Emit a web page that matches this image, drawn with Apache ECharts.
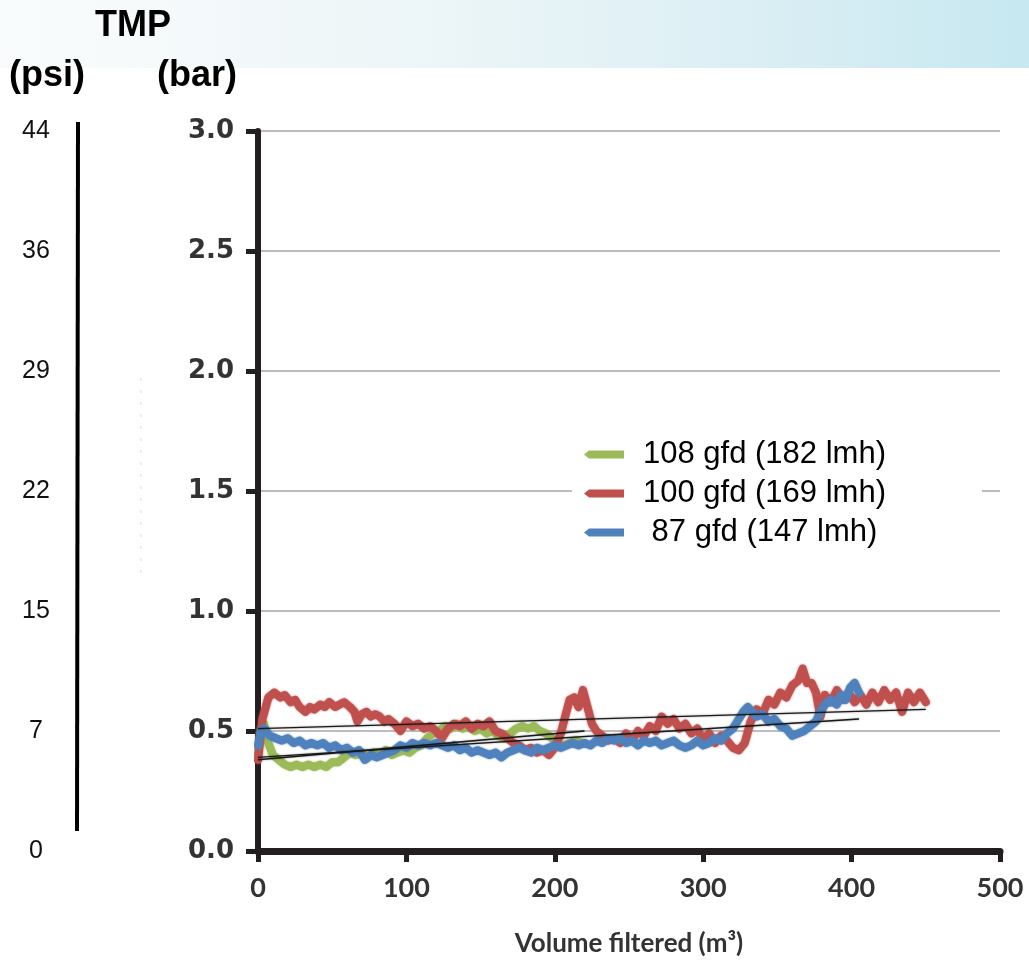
<!DOCTYPE html>
<html>
<head>
<meta charset="utf-8">
<title>TMP vs volume filtered</title>
<script src="https://cdn.jsdelivr.net/npm/echarts@6/dist/echarts.min.js"></script>
<style>
  html, body { margin: 0; padding: 0; background: #fff; }
  #chart { width: 1029px; height: 962px; }
</style>
</head>
<body>
<div id="chart"></div>
<script>
// x axis ticks and the psi labels that sit beside the bar ticks
var volTicks = [0, 100, 200, 300, 400, 500];
var psiLabels = ["0", "7", "15", "22", "29", "36", "44"];

var seriesNames = ["108 gfd (182 lmh)", "100 gfd (169 lmh)", " 87 gfd (147 lmh)"];

// 108 gfd (green)
var greenVol = [0, 2, 4, 7, 10, 14, 18, 22, 26, 30, 34, 38, 42, 46, 50, 54, 58, 62, 66, 70,
  74, 78, 82, 86, 90, 94, 98, 102, 106, 110, 114, 118, 122, 126, 130, 134, 138, 142, 146, 150,
  154, 158, 162, 166, 170, 174, 178, 182, 186, 190, 194, 198, 202, 206, 210, 214, 218];
var greenTmp = [0.40, 0.50, 0.53, 0.45, 0.40, 0.38, 0.36, 0.35, 0.36, 0.35, 0.36, 0.35, 0.36, 0.35, 0.37, 0.37, 0.39, 0.41, 0.40, 0.41,
  0.39, 0.41, 0.40, 0.42, 0.40, 0.41, 0.42, 0.41, 0.43, 0.44, 0.47, 0.49, 0.50, 0.52, 0.51, 0.53, 0.51, 0.52, 0.50, 0.51,
  0.49, 0.50, 0.48, 0.47, 0.49, 0.51, 0.52, 0.51, 0.52, 0.50, 0.49, 0.47, 0.45, 0.44, 0.45, 0.46, 0.45];

// 100 gfd (red)
var redVol = [0, 3, 7, 11, 15, 18, 22, 25, 28, 32, 35, 38, 42, 45, 48, 52, 55, 58, 62, 65,
  67, 70, 73, 76, 79, 82, 85, 88, 92, 96, 100, 104, 108, 112, 116, 120, 124, 128, 132, 136,
  140, 144, 148, 152, 156, 160, 164, 168, 172, 176, 180, 184, 188, 192, 196, 200, 204, 207, 210, 213,
  216, 219, 222, 225, 228, 232, 236, 240, 244, 248, 252, 256, 260, 264, 268, 272, 276, 280, 284, 288,
  292, 296, 300, 304, 308, 312, 316, 320, 324, 328, 332, 336, 340, 344, 348, 352, 356, 360, 364, 367,
  370, 373, 376, 379, 382, 386, 390, 394, 398, 402, 406, 410, 414, 418, 422, 426, 430, 434, 438, 442,
  446, 450];
var redTmp = [0.38, 0.55, 0.64, 0.66, 0.64, 0.65, 0.62, 0.63, 0.60, 0.58, 0.60, 0.59, 0.61, 0.60, 0.62, 0.60, 0.61, 0.62, 0.60, 0.58,
  0.54, 0.57, 0.58, 0.56, 0.57, 0.56, 0.54, 0.55, 0.53, 0.50, 0.54, 0.52, 0.53, 0.51, 0.52, 0.50, 0.47, 0.51, 0.53, 0.52,
  0.54, 0.51, 0.53, 0.52, 0.54, 0.50, 0.49, 0.47, 0.45, 0.44, 0.42, 0.43, 0.41, 0.42, 0.40, 0.43, 0.49, 0.56, 0.63, 0.64,
  0.60, 0.67, 0.60, 0.53, 0.50, 0.48, 0.46, 0.47, 0.45, 0.49, 0.46, 0.50, 0.48, 0.52, 0.50, 0.56, 0.53, 0.55, 0.51, 0.53,
  0.49, 0.51, 0.46, 0.49, 0.45, 0.48, 0.46, 0.43, 0.42, 0.45, 0.54, 0.59, 0.57, 0.63, 0.61, 0.66, 0.64, 0.69, 0.71, 0.76,
  0.70, 0.70, 0.66, 0.56, 0.65, 0.62, 0.67, 0.63, 0.66, 0.62, 0.65, 0.61, 0.66, 0.62, 0.67, 0.63, 0.66, 0.58, 0.66, 0.62,
  0.66, 0.62];

// 87 gfd (blue)
var blueVol = [0, 2, 4, 8, 12, 16, 20, 24, 28, 32, 36, 40, 44, 48, 52, 56, 60, 64, 68, 72,
  76, 80, 84, 88, 92, 96, 100, 104, 108, 112, 116, 120, 124, 128, 132, 136, 140, 144, 148, 152,
  156, 160, 164, 168, 172, 176, 180, 184, 188, 192, 196, 200, 204, 208, 212, 216, 220, 224, 228, 232,
  236, 240, 244, 248, 252, 256, 260, 264, 268, 272, 276, 280, 284, 288, 292, 296, 300, 304, 308, 312,
  316, 320, 324, 327, 330, 333, 336, 340, 344, 348, 352, 356, 360, 364, 368, 372, 376, 379, 382, 386,
  390, 393, 396, 399, 402, 405];
var blueTmp = [0.44, 0.50, 0.51, 0.48, 0.47, 0.46, 0.47, 0.45, 0.46, 0.44, 0.45, 0.44, 0.45, 0.43, 0.44, 0.42, 0.43, 0.41, 0.42, 0.38,
  0.40, 0.39, 0.40, 0.41, 0.42, 0.44, 0.43, 0.45, 0.44, 0.45, 0.44, 0.45, 0.44, 0.43, 0.44, 0.42, 0.43, 0.41, 0.42, 0.41,
  0.40, 0.41, 0.39, 0.41, 0.42, 0.43, 0.42, 0.41, 0.43, 0.42, 0.43, 0.44, 0.43, 0.44, 0.45, 0.44, 0.45, 0.44, 0.46, 0.45,
  0.47, 0.46, 0.47, 0.45, 0.46, 0.44, 0.46, 0.45, 0.46, 0.44, 0.45, 0.46, 0.44, 0.43, 0.44, 0.46, 0.44, 0.45, 0.47, 0.46,
  0.49, 0.51, 0.55, 0.58, 0.60, 0.58, 0.56, 0.57, 0.54, 0.55, 0.52, 0.51, 0.48, 0.49, 0.50, 0.52, 0.54, 0.58, 0.61, 0.63,
  0.61, 0.65, 0.63, 0.68, 0.70, 0.66];

// linear trend lines (end points)
var greenFitVol = [0, 220], greenFit = [0.38, 0.50];
var redFitVol = [0, 450], redFit = [0.51, 0.59];
var blueFitVol = [0, 405], blueFit = [0.39, 0.55];

var colors = ["#9bbb59", "#c0504d", "#4f81bd"];

function zip(xs, ys) {
  return xs.map(function (x, i) { return [x, ys[i]]; });
}

function dataLine(name, color, xs, ys) {
  return {
    name: name,
    type: "line",
    data: zip(xs, ys),
    showSymbol: false,
    symbol: "none",
    lineStyle: { color: color, width: 8, join: "round", cap: "round", shadowColor: color, shadowBlur: 2 },
    itemStyle: { color: color },
    animation: false
  };
}

function fitLine(xs, ys) {
  return {
    type: "line",
    data: zip(xs, ys),
    symbol: "none",
    silent: true,
    z: 5,
    lineStyle: { color: "#1a1a1a", width: 1.4, shadowColor: "rgba(0,0,0,0.45)", shadowBlur: 2 },
    animation: false
  };
}

var legendIcon = "path://M0,4 L5,0 L40,0 L40,8 L5,8 Z";

var myChart = echarts.init(document.getElementById("chart"));
var option = {
  backgroundColor: "#ffffff",
  animation: false,
  graphic: [
    {
      type: "rect",
      shape: { x: 0, y: 0, width: 1029, height: 68 },
      style: {
        fill: new echarts.graphic.LinearGradient(0, 0, 1, 0, [
          { offset: 0, color: "rgba(240,246,248,0.4)" },
          { offset: 0.45, color: "rgba(228,241,245,0.75)" },
          { offset: 0.8, color: "#d6edf3" },
          { offset: 1, color: "#c7e8f1" }
        ])
      },
      z: -10
    },
    {
      type: "text", left: 95, top: 8,
      style: { text: "TMP", font: "bold 36px 'Liberation Sans Narrow', 'Liberation Sans', Arial", fill: "#000" }
    },
    {
      type: "text", left: 9, top: 58,
      style: { text: "(psi)", font: "bold 36px 'Liberation Sans Narrow', 'Liberation Sans', Arial", fill: "#000" }
    },
    {
      type: "text", left: 157, top: 58,
      style: { text: "(bar)", font: "bold 36px 'Liberation Sans Narrow', 'Liberation Sans', Arial", fill: "#000" }
    },
    {
      type: "line",
      shape: { x1: 78, y1: 122, x2: 77, y2: 831 },
      style: { stroke: "#000", lineWidth: 4 }
    },
    {
      type: "line",
      shape: { x1: 141, y1: 378, x2: 141, y2: 575 },
      style: { stroke: "rgba(150,150,150,0.35)", lineWidth: 1, lineDash: [3, 9] }
    }
  ],
  legend: {
    data: seriesNames,
    orient: "vertical",
    left: 572,
    top: 431,
    padding: [8, 96, 8, 12],
    itemGap: 8,
    itemWidth: 40,
    itemHeight: 8,
    icon: legendIcon,
    backgroundColor: "#ffffff",
    textStyle: {
      fontFamily: "'Liberation Sans', Arial",
      fontSize: 31,
      color: "#000",
      padding: [0, 0, 0, 14]
    }
  },
  grid: { left: 258, right: 29, top: 131, bottom: 111, containLabel: false, outerBoundsMode: "none" },
  xAxis: {
    type: "value",
    min: volTicks[0],
    max: volTicks[volTicks.length - 1],
    interval: 100,
    name: "Volume filtered (m³)",
    nameLocation: "middle",
    nameGap: 80,
    nameTextStyle: { fontFamily: "Lato", fontWeight: "bold", fontSize: 26, color: "#333" },
    axisLine: { onZero: false, lineStyle: { color: "#231f20", width: 7 } },
    axisTick: { show: true, length: 11, lineStyle: { color: "#231f20", width: 5 } },
    axisLabel: { margin: 24, fontFamily: "Lato", fontWeight: "bold", fontSize: 27, color: "#333" },
    splitLine: { show: false }
  },
  yAxis: [
    {
      type: "value",
      min: 0,
      max: 3,
      interval: 0.5,
      axisLine: { show: true, lineStyle: { color: "#231f20", width: 6 } },
      axisTick: { show: true, length: 12, lineStyle: { color: "#231f20", width: 5 } },
      axisLabel: {
        margin: 24,
        fontFamily: "'DejaVu Sans'",
        fontWeight: "bold",
        fontSize: 26,
        color: "#333",
        formatter: function (v) { return v.toFixed(1); }
      },
      splitLine: { show: true, lineStyle: { color: "#a6a6a6", width: 1.5 } }
    },
    {
      type: "value",
      position: "left",
      offset: 180,
      min: 0,
      max: 3,
      interval: 0.5,
      axisLine: { show: false },
      axisTick: { show: false },
      splitLine: { show: false },
      axisLabel: {
        margin: 42,
        align: "center",
        fontFamily: "'Liberation Sans', Arial",
        fontSize: 25,
        color: "#111",
        formatter: function (v) { return psiLabels[Math.round(v / 0.5)]; }
      }
    }
  ],
  series: [
    dataLine(seriesNames[0], colors[0], greenVol, greenTmp),
    dataLine(seriesNames[1], colors[1], redVol, redTmp),
    dataLine(seriesNames[2], colors[2], blueVol, blueTmp),
    fitLine(greenFitVol, greenFit),
    fitLine(redFitVol, redFit),
    fitLine(blueFitVol, blueFit)
  ]
};

myChart.setOption(option);
</script>
</body>
</html>
